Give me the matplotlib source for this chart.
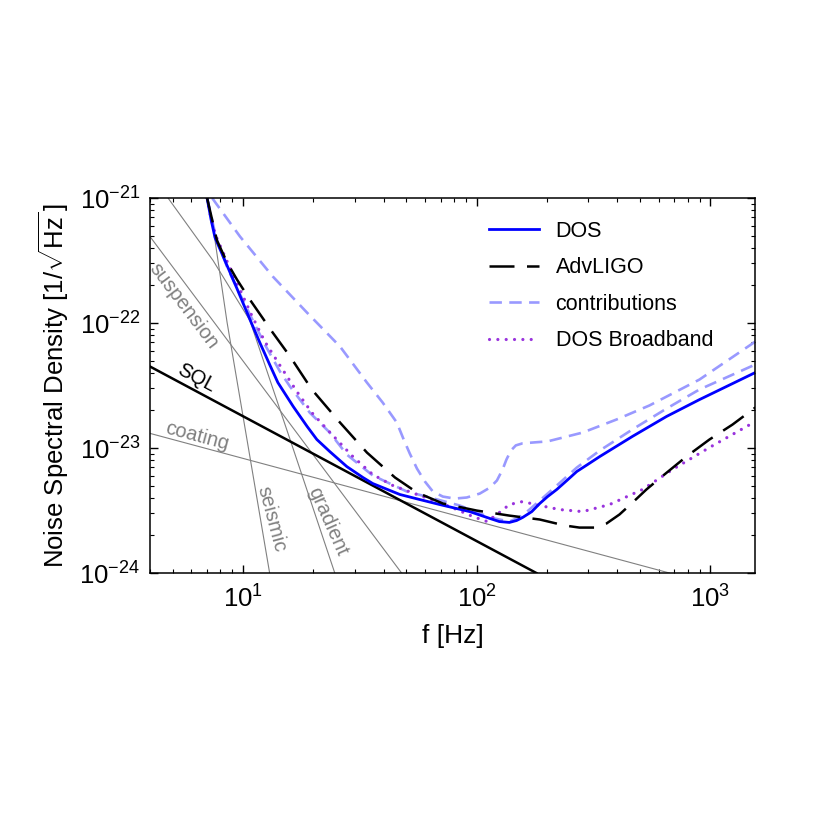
import numpy as np
import matplotlib
matplotlib.use("Agg")
import matplotlib.pyplot as plt
from matplotlib.lines import Line2D
from matplotlib.ticker import NullFormatter

plt.rcParams['font.family'] = ['Liberation Sans', 'DejaVu Sans']
plt.rcParams['mathtext.fontset'] = 'custom'
plt.rcParams['mathtext.rm'] = 'Liberation Sans'
plt.rcParams['mathtext.it'] = 'Liberation Sans:italic'
plt.rcParams['mathtext.bf'] = 'Liberation Sans:bold'

# --- data (f in Hz, amplitude spectral density in 1/sqrt(Hz)) ---
dos_f = [7.02, 7.30, 7.59, 8.55, 9.42, 10.7, 11.8, 13.0, 14.1, 16.4, 18.8, 20.7, 23.5, 27.8,
         32.6, 35.9, 46.9, 57.1, 69.5, 93.3, 114, 125, 138, 148, 157, 172, 186, 201, 220,
         243, 268, 298, 336, 464, 649, 897, 1556]
dos_asd = [1.0e-21, 6.73e-22, 4.83e-22, 2.88e-22, 1.89e-22, 1.07e-22, 6.98e-23, 4.66e-23,
           3.34e-23, 2.15e-23, 1.49e-23, 1.17e-23, 9.38e-24, 7.11e-24, 5.81e-24, 5.20e-24,
           4.25e-24, 3.87e-24, 3.53e-24, 3.10e-24, 2.73e-24, 2.58e-24, 2.54e-24, 2.63e-24,
           2.78e-24, 3.10e-24, 3.60e-24, 4.09e-24, 4.66e-24, 5.50e-24, 6.49e-24, 7.38e-24,
           8.55e-24, 1.24e-23, 1.79e-23, 2.44e-23, 4.02e-23]

ligo_f = [7.02, 7.74, 8.55, 9.42, 10.7, 13.4, 15.9, 19.7, 26.0, 33.9, 44.7, 55.5, 71.6, 100,
          138, 186, 238, 275, 319, 359, 408, 464, 532, 605, 789, 990, 1242, 1556]
ligo_asd = [1.0e-21, 4.57e-22, 3.05e-22, 2.23e-22, 1.54e-22, 8.39e-23, 5.40e-23, 2.94e-23,
            1.60e-23, 9.20e-24, 5.81e-24, 4.41e-24, 3.60e-24, 3.16e-24, 2.88e-24, 2.68e-24,
            2.40e-24, 2.31e-24, 2.31e-24, 2.49e-24, 2.94e-24, 3.66e-24, 4.66e-24, 5.70e-24,
            8.55e-24, 1.17e-23, 1.54e-23, 2.11e-23]

contrib_hi_f = [7.38, 9.71, 13.4, 18.8, 26.0, 33.9, 39.6, 45.5, 48.7, 51.7, 55.5, 60.0, 64.9,
                71.6, 80.5, 90.6, 103, 114, 122, 129, 134, 140, 147, 157, 177, 201, 284, 396,
                548, 897, 1556]
contrib_hi_asd = [1.0e-21, 4.92e-22, 2.36e-22, 1.21e-22, 6.49e-23, 3.34e-23, 2.31e-23,
                  1.60e-23, 1.17e-23, 9.04e-24, 6.85e-24, 5.40e-24, 4.49e-24, 4.09e-24,
                  3.94e-24, 4.02e-24, 4.32e-24, 4.83e-24, 5.50e-24, 6.73e-24, 8.09e-24,
                  9.55e-24, 1.05e-23, 1.09e-23, 1.11e-23, 1.13e-23, 1.33e-23, 1.69e-23,
                  2.19e-23, 3.53e-23, 7.11e-23]

contrib_lo_f = [7.02, 7.67, 8.63, 10.7, 12.4, 14.4, 15.9, 19.3, 23.5, 27.8, 35.9, 50.2, 63.0,
                84.5, 114, 138, 157, 186, 220, 268, 336, 464, 649, 897, 1556]
contrib_lo_asd = [1.0e-21, 4.83e-22, 2.68e-22, 1.17e-22, 6.73e-23, 4.09e-23, 3.10e-23,
                  1.92e-23, 1.33e-23, 8.87e-24, 6.03e-24, 4.49e-24, 4.02e-24, 3.47e-24,
                  2.78e-24, 2.58e-24, 2.88e-24, 3.80e-24, 5.01e-24, 6.98e-24, 9.55e-24,
                  1.41e-23, 2.07e-23, 2.94e-23, 4.66e-23]

bb_f = [7.02, 7.30, 7.67, 8.63, 9.71, 10.9, 12.4, 14.4, 17.0, 19.7, 22.9, 29.5, 35.9, 43.8,
        55.5, 69.5, 82.2, 96.2, 111, 125, 138, 157, 186, 226, 284, 370, 512, 688, 990, 1556]
bb_asd = [1.0e-21, 6.85e-22, 4.92e-22, 2.99e-22, 1.85e-22, 1.15e-22, 7.11e-23, 4.57e-23,
          2.83e-23, 1.92e-23, 1.41e-23, 8.55e-24, 6.14e-24, 5.01e-24, 4.25e-24, 3.66e-24,
          3.22e-24, 2.83e-24, 2.58e-24, 3.05e-24, 3.53e-24, 3.73e-24, 3.47e-24, 3.22e-24,
          3.10e-24, 3.53e-24, 4.66e-24, 6.73e-24, 1.01e-23, 1.63e-23]

sql_f = [4.0, 180.0]
sql_asd = [4.49e-23, 1.0e-24]

coating_f = [4.0, 668.0]
coating_asd = [1.31e-23, 1.0e-24]

suspension_f = [4.0, 47.7]
suspension_asd = [4.92e-22, 1.0e-24]

gradient_f = [4.78, 7.45, 10.7, 15.9, 24.7]
gradient_asd = [1.0e-21, 3.16e-22, 1.05e-22, 1.17e-23, 1.0e-24]

seismic_f = [7.08, 7.45, 8.55, 10.4, 13.0]
seismic_asd = [1.0e-21, 5.81e-22, 1.01e-22, 1.17e-23, 1.0e-24]

x_ticks = [10, 100, 1000]
x_ticklabels = [r'$10^{1}$', r'$10^{2}$', r'$10^{3}$']
y_ticks = [1e-24, 1e-23, 1e-22, 1e-21]
y_ticklabels = [r'$10^{-24}$', r'$10^{-23}$', r'$10^{-22}$', r'$10^{-21}$']

# --- figure ---
fig = plt.figure(figsize=(8.3, 8.3), dpi=100)
ax = fig.add_axes([0.1807, 0.3096, 0.7289, 0.4518])
ax.set_xscale('log')
ax.set_yscale('log')

gray = '#808080'
light = '#9999ff'
purple = '#9933dd'
dotted = (0, (0.01, 2.6))
for f, a in [(suspension_f, suspension_asd), (coating_f, coating_asd),
             (gradient_f, gradient_asd), (seismic_f, seismic_asd)]:
    ax.plot(f, a, color=gray, lw=0.8)
ax.plot(sql_f, sql_asd, color='black', lw=1.8)

ax.plot(contrib_hi_f, contrib_hi_asd, color=light, lw=1.9, dashes=(4.7, 2.8))
ax.plot(contrib_lo_f, contrib_lo_asd, color=light, lw=1.9, dashes=(4.7, 2.8))
ax.plot(bb_f, bb_asd, color=purple, lw=2.3, linestyle=dotted, dash_capstyle='round')
ax.plot(dos_f, dos_asd, color='#0000ff', lw=2.0)
ax.plot(ligo_f, ligo_asd, color='black', lw=1.8, dashes=(10, 5))

ax.set_xlim(4.0, 1550)
ax.set_ylim(1e-24, 1e-21)

# curve labels
lab = dict(fontsize=14.5, color=gray, ha='center', va='center', rotation_mode='anchor')
ax.text(5.6, 1.38e-22, 'suspension', rotation=-53, **lab)
ax.text(6.35, 1.24e-23, 'coating', rotation=-15, **lab)
ax.text(13.2, 2.68e-24, 'seismic', rotation=-75, **lab)
ax.text(23.1, 2.58e-24, 'gradient', rotation=-66, **lab)
ax.text(6.3, 3.66e-23, 'SQL', rotation=-28, fontsize=14.5, color='black',
        ha='center', va='center', rotation_mode='anchor')

handles = [Line2D([], [], color='#0000ff', lw=2.0),
           Line2D([], [], color='black', lw=1.8, dashes=(10, 5)),
           Line2D([], [], color=light, lw=1.9, dashes=(4.7, 2.8)),
           Line2D([], [], color=purple, lw=2.3, linestyle=dotted, dash_capstyle='round')]
labels = ['DOS', 'AdvLIGO', 'contributions', 'DOS Broadband']
ax.legend(handles, labels, loc='upper left', bbox_to_anchor=(0.56, 0.94),
          frameon=False, fontsize=15.5, handlelength=2.35, handletextpad=0.75,
          labelspacing=0.72, borderpad=0, borderaxespad=0)

ax.set_xticks(x_ticks)
ax.set_xticklabels(x_ticklabels)
ax.set_yticks(y_ticks)
ax.set_yticklabels(y_ticklabels)
ax.xaxis.set_minor_formatter(NullFormatter())
ax.yaxis.set_minor_formatter(NullFormatter())
ax.tick_params(which='both', direction='in', top=True, right=True, labelsize=18.5)
ax.tick_params(which='major', length=6, width=1, pad=7)
ax.tick_params(axis='x', which='major', pad=9)
ax.tick_params(which='minor', length=3, width=0.8)
for s in ax.spines.values():
    s.set_linewidth(1.1)

ax.set_xlabel('f [Hz]', fontsize=19, labelpad=8)
ax.set_ylabel(r'Noise Spectral Density $[1/\sqrt{\mathrm{Hz}}\,]$', fontsize=18.5, labelpad=6)

fig.savefig('out.png', dpi=100)
